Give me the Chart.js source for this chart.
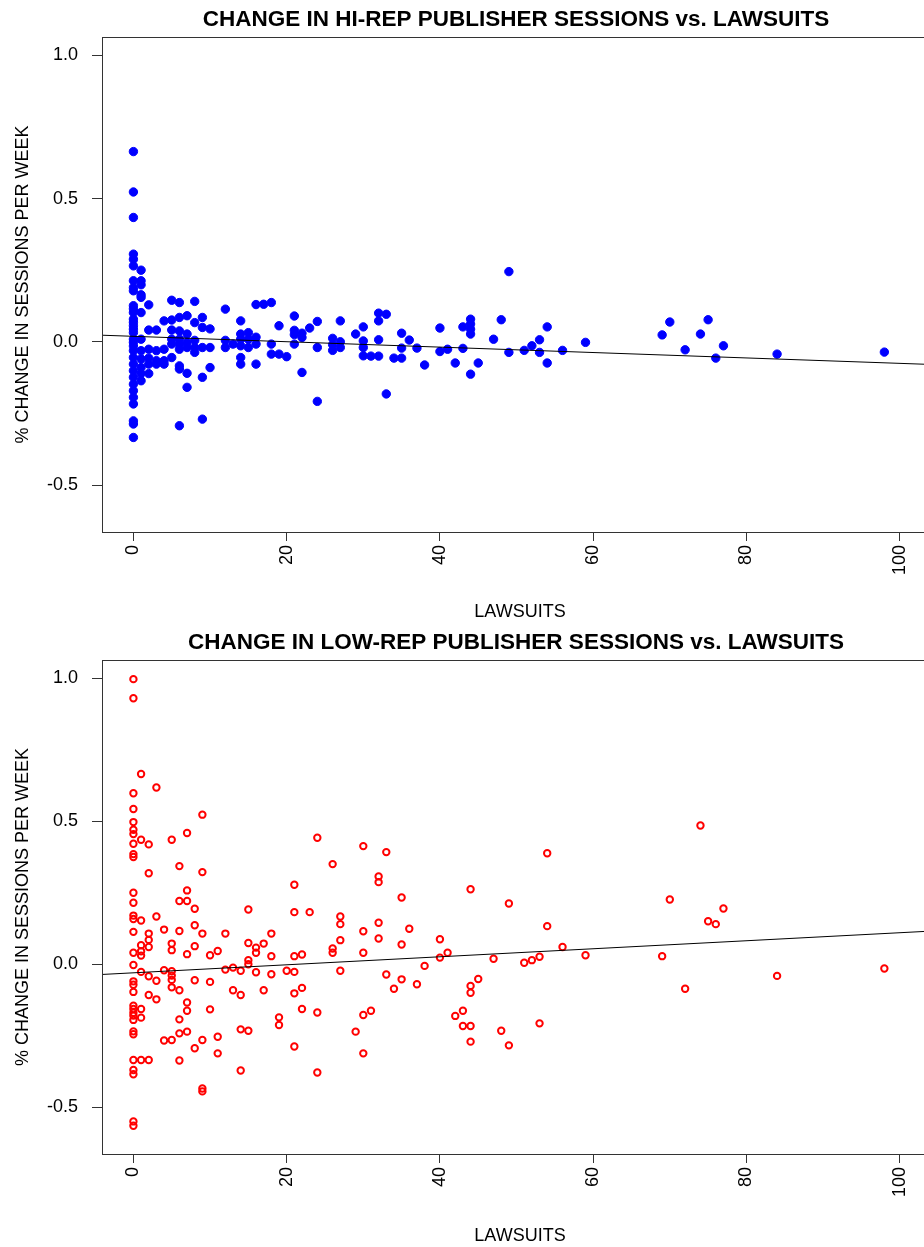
<!DOCTYPE html>
<html>
<head>
<meta charset="utf-8">
<script src="https://cdn.jsdelivr.net/npm/chart.js@4.4.0/dist/chart.umd.min.js"></script>
<style>
  html, body { margin: 0; padding: 0; background: #fff; overflow: hidden; }
  .wrap { width: 924px; overflow: hidden; }
  canvas { display: block; }
</style>
</head>
<body>
<div class="wrap">
  <canvas id="hiChart" width="945" height="625"></canvas>
  <canvas id="loChart" width="945" height="622"></canvas>
</div>
<script>
const xTicks = [0, 20, 40, 60, 80, 100];
const yTicks = [-0.5, 0, 0.5, 1.0];

// lawsuit counts, and the % changes observed at each count
const hiLawsuits = [0, 1, 2, 3, 4, 5, 6, 7, 8, 9, 10, 12, 13, 14, 15, 16, 17, 18, 19, 20,
  21, 22, 23, 24, 26, 27, 29, 30, 31, 32, 33, 34, 35, 36, 37, 38, 40, 41, 42, 43, 44, 45,
  47, 48, 49, 51, 52, 53, 54, 56, 59, 69, 70, 72, 74, 75, 76, 77, 84, 98];
const hiChange = [
  [0.664, 0.523, 0.434, 0.306, 0.288, 0.265, 0.213, 0.189, 0.178, 0.126, 0.115, 0.102, 0.079, 0.068, 0.056, 0.044,
   0.032, 0.009, -0.002, -0.015, -0.031, -0.055, -0.078, -0.101, -0.124, -0.148, -0.171, -0.194, -0.217, -0.276, -0.287, -0.334],
  [0.25, 0.213, 0.199, 0.164, 0.155, 0.102, 0.009, -0.031, -0.06, -0.09, -0.111, -0.136],
  [0.129, 0.041, -0.026, -0.057, -0.078, -0.111],
  [0.041, -0.031, -0.066, -0.078],
  [0.073, -0.026, -0.066, -0.078],
  [0.145, 0.076, 0.041, 0.009, -0.008, -0.055],
  [0.137, 0.085, 0.038, 0.009, -0.008, -0.026, -0.084, -0.095, -0.293],
  [0.091, 0.027, -0.002, -0.02, -0.11, -0.159],
  [0.141, 0.067, 0.005, -0.02, -0.037],
  [0.085, 0.05, -0.02, -0.124, -0.27],
  [0.045, -0.02, -0.09],
  [0.114, 0.005, -0.02],
  [-0.008],
  [0.073, 0.027, 0.009, -0.014, -0.055, -0.078],
  [0.032, 0.009, -0.02],
  [0.13, 0.016, -0.008, -0.078],
  [0.131],
  [0.137, -0.008, -0.043],
  [0.056, -0.043],
  [-0.052],
  [0.09, 0.04, 0.025, -0.008],
  [0.03, 0.015, -0.107],
  [0.048],
  [0.071, -0.02, -0.208],
  [0.012, -0.01, -0.03],
  [0.073, 0.0, -0.02],
  [0.027],
  [0.052, 0.003, -0.02, -0.049],
  [-0.05],
  [0.10, 0.073, 0.007, -0.05],
  [0.096, -0.182],
  [-0.057],
  [0.03, -0.022, -0.057],
  [0.006],
  [-0.022],
  [-0.081],
  [0.048, -0.034],
  [-0.026],
  [-0.074],
  [0.052, -0.023],
  [0.079, 0.062, 0.044, 0.027, -0.113],
  [-0.074],
  [0.009],
  [0.077],
  [0.245, -0.037],
  [-0.03],
  [-0.014],
  [0.007, -0.037],
  [0.052, -0.074],
  [-0.03],
  [-0.002],
  [0.024],
  [0.069],
  [-0.028],
  [0.027],
  [0.077],
  [-0.057],
  [-0.014],
  [-0.043],
  [-0.036]
];
const hiFitX = [-4.1, 105];
const hiFitY = [0.023, -0.080];

const loLawsuits = [0, 1, 2, 3, 4, 5, 6, 7, 8, 9, 10, 11, 12, 13, 14, 15, 16, 17, 18, 19, 20,
  21, 22, 23, 24, 26, 27, 29, 30, 31, 32, 33, 34, 35, 36, 37, 38, 40, 41, 42, 43, 44, 45,
  47, 48, 49, 51, 52, 53, 54, 56, 59, 69, 70, 72, 74, 75, 76, 77, 84, 98];
const loChange = [
  [0.997, 0.93, 0.598, 0.543, 0.497, 0.47, 0.455, 0.421, 0.385, 0.375, 0.25, 0.215, 0.17, 0.158, 0.113, 0.04,
   -0.003, -0.06, -0.072, -0.097, -0.145, -0.157, -0.17, -0.18, -0.195, -0.235, -0.245, -0.335, -0.37, -0.385, -0.55, -0.565],
  [0.665, 0.435, 0.153, 0.066, 0.045, 0.03, -0.027, -0.157, -0.187, -0.335],
  [0.419, 0.318, 0.107, 0.085, 0.06, -0.042, -0.108, -0.335],
  [0.618, 0.167, -0.058, -0.123],
  [0.121, -0.021, -0.267],
  [0.435, 0.072, 0.049, -0.025, -0.04, -0.055, -0.081, -0.265],
  [0.343, 0.221, 0.116, -0.091, -0.193, -0.242, -0.337],
  [0.459, 0.258, 0.221, 0.035, -0.134, -0.163, -0.236],
  [0.194, 0.136, 0.063, -0.056, -0.294],
  [0.523, 0.322, 0.107, -0.265, -0.435, -0.445],
  [0.031, -0.062, -0.158],
  [0.046, -0.254, -0.312],
  [0.107, -0.019],
  [-0.012, -0.091],
  [-0.023, -0.108, -0.228, -0.372],
  [0.191, 0.074, 0.014, 0.0, -0.233],
  [0.058, 0.04, -0.028],
  [0.072, -0.091],
  [0.107, 0.028, -0.035],
  [-0.186, -0.213],
  [-0.023],
  [0.278, 0.182, 0.028, -0.027, -0.102, -0.288],
  [0.034, -0.083, -0.157],
  [0.182],
  [0.442, -0.169, -0.379],
  [0.35, 0.055, 0.04],
  [0.167, 0.14, 0.084, -0.023],
  [-0.236],
  [0.413, 0.115, 0.04, -0.178, -0.312],
  [-0.163],
  [0.307, 0.287, 0.145, 0.09],
  [0.392, -0.036],
  [-0.086],
  [0.233, 0.069, -0.053],
  [0.124],
  [-0.07],
  [-0.006],
  [0.087, 0.023],
  [0.04],
  [-0.181],
  [-0.163, -0.216],
  [0.262, -0.076, -0.1, -0.216, -0.271],
  [-0.052],
  [0.019],
  [-0.233],
  [0.212, -0.284],
  [0.005],
  [0.014],
  [0.026, -0.207],
  [0.388, 0.133],
  [0.06],
  [0.031],
  [0.028],
  [0.226],
  [-0.086],
  [0.485],
  [0.15],
  [0.14],
  [0.195],
  [-0.041],
  [-0.015]
];
const loFitX = [-4.1, 105];
const loFitY = [-0.036, 0.117];

const FONT = '"Liberation Sans", Arial, sans-serif';

// R-style frame round the plot region plus the main title
const boxAndTitle = {
  id: 'boxAndTitle',
  afterDraw(chart, args, opts) {
    const { ctx, chartArea: a } = chart;
    ctx.save();
    ctx.strokeStyle = '#333';
    ctx.lineWidth = 1;
    ctx.strokeRect(Math.round(a.left) + 0.5, Math.round(a.top) + 0.5,
      Math.round(a.right - a.left), Math.round(a.bottom - a.top));
    ctx.fillStyle = '#000';
    ctx.font = 'bold 22.5px ' + FONT;
    ctx.textAlign = 'center';
    ctx.textBaseline = 'middle';
    ctx.fillText(opts.text, (a.left + a.right) / 2 - 4, opts.y);
    ctx.restore();
  }
};

function toPoints(xs, groups) {
  const pts = [];
  xs.forEach((x, i) => groups[i].forEach(y => pts.push({ x: x, y: y })));
  return pts;
}

function makeChart(id, cfg) {
  const ctx = document.getElementById(id).getContext('2d');
  return new Chart(ctx, {
    type: 'scatter',
    data: {
      datasets: [
        {
          data: cfg.fitX.map((x, i) => ({ x: x, y: cfg.fitY[i] })),
          showLine: true,
          borderColor: '#000',
          borderWidth: 1,
          pointRadius: 0,
          order: 0
        },
        Object.assign({ data: toPoints(cfg.xs, cfg.ys), order: 1 }, cfg.pointStyle)
      ]
    },
    options: {
      responsive: false,
      animation: false,
      events: [],
      layout: { padding: { top: cfg.top, left: 0, right: 7, bottom: 0 } },
      plugins: {
        legend: { display: false },
        tooltip: { enabled: false },
        boxAndTitle: { text: cfg.title, y: cfg.titleY }
      },
      scales: {
        x: {
          type: 'linear',
          min: -4.1,
          max: 105,
          afterBuildTicks: s => { s.ticks = xTicks.map(v => ({ value: v })); },
          afterFit: s => { s.height = 93; },
          border: { display: false },
          grid: { drawOnChartArea: false, drawTicks: true, tickLength: 9, color: '#333' },
          ticks: {
            minRotation: 90, maxRotation: 90, padding: 4, color: '#000',
            font: { family: FONT, size: 18 },
            callback: v => String(v)
          },
          title: {
            display: true, text: 'LAWSUITS', color: '#000',
            font: { family: FONT, size: 18 },
            padding: { top: 0, bottom: cfg.xTitlePad }
          }
        },
        y: {
          type: 'linear',
          min: -0.664,
          max: 1.064,
          afterBuildTicks: s => { s.ticks = yTicks.map(v => ({ value: v })); },
          afterFit: s => { s.width = 102; },
          border: { display: false },
          grid: { drawOnChartArea: false, drawTicks: true, tickLength: 10, color: '#333' },
          ticks: {
            padding: 14, color: '#000',
            font: { family: FONT, size: 18 },
            callback: v => v.toFixed(1)
          },
          title: {
            display: true, text: '% CHANGE IN SESSIONS PER WEEK', color: '#000',
            font: { family: FONT, size: 18 },
            padding: { top: 12, bottom: 0 }
          }
        }
      }
    },
    plugins: [boxAndTitle]
  });
}

makeChart('hiChart', {
  xs: hiLawsuits, ys: hiChange, fitX: hiFitX, fitY: hiFitY,
  title: 'CHANGE IN HI-REP PUBLISHER SESSIONS vs. LAWSUITS', titleY: 20,
  top: 37, xTitlePad: 2,
  pointStyle: { pointRadius: 4.2, borderWidth: 1, backgroundColor: '#0000ff', borderColor: '#0000ff' }
});

makeChart('loChart', {
  xs: loLawsuits, ys: loChange, fitX: loFitX, fitY: loFitY,
  title: 'CHANGE IN LOW-REP PUBLISHER SESSIONS vs. LAWSUITS', titleY: 18,
  top: 35, xTitlePad: 0,
  pointStyle: { pointRadius: 3.2, borderWidth: 2, backgroundColor: 'rgba(0,0,0,0)', borderColor: '#ff0000' }
});
</script>
</body>
</html>
